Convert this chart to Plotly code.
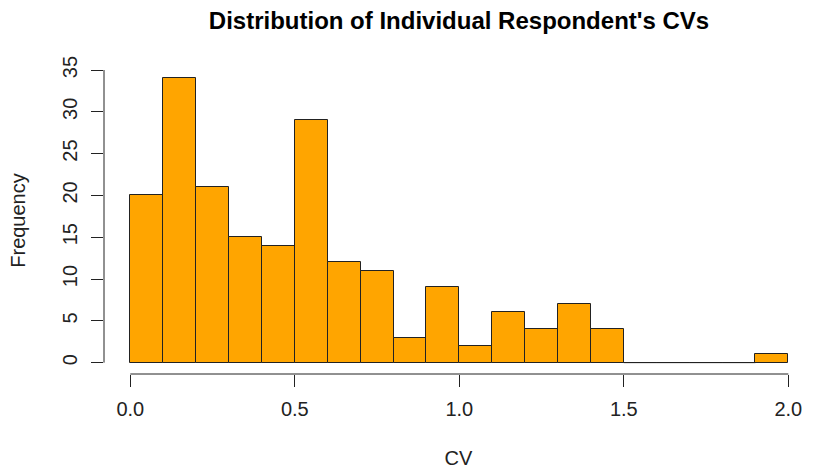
import plotly.graph_objects as go

# Data
bin_edges = [round(0.1 * i, 1) for i in range(21)]
counts = [20, 34, 21, 15, 14, 29, 12, 11, 3, 9, 2, 6, 4, 7, 4, 0, 0, 0, 0, 1]
x_ticks = [0.0, 0.5, 1.0, 1.5, 2.0]
x_tick_labels = ["0.0", "0.5", "1.0", "1.5", "2.0"]
y_ticks = [0, 5, 10, 15, 20, 25, 30, 35]
title = "Distribution of Individual Respondent's CVs"
x_label = "CV"
y_label = "Frequency"

centers = [(bin_edges[i] + bin_edges[i + 1]) / 2 for i in range(len(counts))]
widths = [bin_edges[i + 1] - bin_edges[i] for i in range(len(counts))]

FONT = "Liberation Sans, Arial, Helvetica, sans-serif"
AX = "#222222"

W, H = 813, 472
ml, mr, mt, mb = 104, 0, 67, 98
xr = [-0.08, -0.08 + (W - ml - mr) / 329.0]
yr = [-1.36, 35.36]

fig = go.Figure()
fig.add_trace(go.Bar(
    x=centers, y=counts, width=widths,
    marker=dict(color="#FFA500", line=dict(color=AX, width=1)),
    hoverinfo="x+y", showlegend=False,
))

# zero-count bins drawn as flat outlines (as R's hist does)
zx, zy = [], []
for i, c in enumerate(counts):
    if c == 0:
        zx += [bin_edges[i], bin_edges[i + 1], None]
        zy += [c, c, None]
fig.add_trace(go.Scatter(x=zx, y=zy, mode="lines", line=dict(color=AX, width=1),
                         hoverinfo="skip", showlegend=False))

def px(v):
    return (v - xr[0]) / (xr[1] - xr[0])

def py(v):
    return (v - yr[0]) / (yr[1] - yr[0])

shapes = [
    dict(type="line", xref="paper", yref="paper", x0=px(x_ticks[0]), x1=px(x_ticks[-1]),
         y0=0, y1=0, line=dict(color=AX, width=1)),
    dict(type="line", xref="paper", yref="paper", x0=0, x1=0,
         y0=py(y_ticks[0]), y1=py(y_ticks[-1]), line=dict(color=AX, width=1)),
]

fig.update_layout(
    width=W, height=H,
    margin=dict(l=ml, r=mr, t=mt, b=mb),
    plot_bgcolor="white", paper_bgcolor="white",
    bargap=0,
    shapes=shapes,
    title=dict(text="<b>" + title + "</b>", x=(ml + (W - ml - mr + 1) / 2) / W, xanchor="center",
               y=1 - 21 / H, yanchor="middle",
               font=dict(family=FONT, size=24, color="black")),
    font=dict(family=FONT, size=20, color="#222222"),
    xaxis=dict(range=xr, tickvals=x_ticks, ticktext=x_tick_labels, showgrid=False,
               zeroline=False, showline=False, ticks="outside", ticklen=12,
               tickwidth=1, tickcolor=AX, ticklabelstandoff=5,
               title=dict(text=x_label, standoff=31, font=dict(size=20))),
    yaxis=dict(range=yr, tickvals=y_ticks, showgrid=False, zeroline=False,
               showline=False, ticks="outside", ticklen=12, tickwidth=1,
               tickcolor=AX, tickangle=-90, ticklabelstandoff=6,
               title=dict(text=y_label, standoff=28, font=dict(size=20))),
)

fig.write_html("out.html")
